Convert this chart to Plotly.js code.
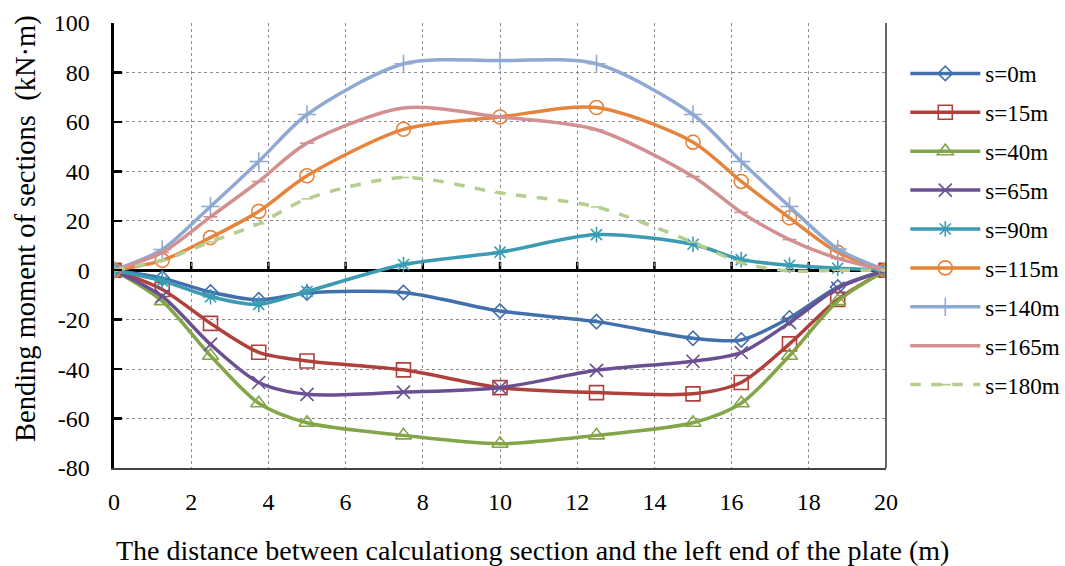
<!DOCTYPE html>
<html>
<head>
<meta charset="utf-8">
<script src="https://cdn.plot.ly/plotly-3.0.1.min.js"></script>
<style>html,body{margin:0;padding:0;background:#fff;}#chart{width:1065px;height:566px;}</style>
</head>
<body>
<div id="chart"></div>
<script>
const distance = [0, 1.25, 2.5, 3.75, 5, 7.5, 10, 12.5, 15, 16.25, 17.5, 18.75, 20];
const seriesNames = ["s=0m", "s=15m", "s=40m", "s=65m", "s=90m", "s=115m", "s=140m", "s=165m", "s=180m"];
const s0   = [0, -3.2, -8.8, -12, -9.2, -9, -16.5, -20.8, -27.5, -28.2, -19.3, -6.8, 0];
const s15  = [0, -7.8, -21.5, -33.2, -36.7, -40.3, -47.5, -49.5, -50, -45.4, -29.8, -11.8, 0];
const s40  = [0, -12.5, -34.6, -53.8, -61.7, -66.8, -70.2, -66.8, -61.7, -53.8, -34.6, -12.5, 0];
const s65  = [0, -10.6, -30, -45.4, -50.2, -49.3, -47.5, -40.5, -36.8, -33.3, -21.2, -7.3, 0];
const s90  = [0, -4.3, -10.7, -13.8, -8.6, 2.3, 7.3, 14.4, 10.5, 4.3, 2, 0.8, 0];
const s115 = [0, 4, 13.2, 23.8, 38.2, 57, 62, 65.8, 51.8, 35.9, 21.2, 7.2, 0];
const s140 = [0, 8.4, 25.8, 44, 63, 83.5, 84.8, 83.5, 63, 44, 25.8, 8.6, 0];
const s165 = [0, 7.2, 21.6, 35.9, 51.4, 65.6, 62, 56.8, 37.9, 23.4, 12.4, 4.8, 0];
const s180 = [0, 4, 11.5, 18.8, 28.9, 37.5, 31.3, 25.6, 11.3, 3, -0.3, 0, 0];
const xTicks = [0, 2, 4, 6, 8, 10, 12, 14, 16, 18, 20];
const yTicks = [-80, -60, -40, -20, 0, 20, 40, 60, 80, 100];
const xTitle = "The distance between calculationg section and the left end of the plate (m)";
const yTitle = "Bending moment of sections  (kN·m)";

const allValues = [s0, s15, s40, s65, s90, s115, s140, s165, s180];
const colors = ["#4170AD", "#B0403C", "#82A548", "#6A5092", "#3A9BB3", "#E5843A", "#8FA9D3", "#D39090", "#B5CD8E"];
const symbols = ["diamond-open", "square-open", "triangle-up-open", "x-thin-open", "asterisk-open", "circle-open", "cross-thin-open", "line-ew-open", "line-ew-open"];
const sizes = [11, 14, 14, 13, 13, 14, 13, 10, 8];
const dashes = ["solid","solid","solid","solid","solid","solid","solid","solid","dash"];

const serif = '"Liberation Serif", "Times New Roman", serif';

const traces = allValues.map((vals, i) => ({
  x: distance, y: vals, name: seriesNames[i], type: "scatter", mode: "lines+markers",
  legendgroup: "g" + i,
  line: {color: colors[i], width: 3.5, shape: "spline", smoothing: 0.8, dash: dashes[i]},
  marker: {symbol: symbols[i], size: sizes[i], color: colors[i], line: {color: colors[i], width: 1.6}}
}));

// decorative tick marks on the zero axis line, derived from the tick array
const zeroTickShapes = xTicks.slice(1, -1).map(t => ({
  type: "line", xref: "x", yref: "y", x0: t, x1: t, y0: 0, y1: 3.4,
  line: {color: "#000", width: 2.5}, layer: "below"
}));

const layout = {
  width: 1065, height: 566,
  paper_bgcolor: "#ffffff", plot_bgcolor: "#ffffff",
  margin: {l: 114, r: 179, t: 23, b: 98, autoexpand: false},
  font: {family: serif, size: 24, color: "#000"},
  showlegend: true,
  legend: {
    x: 1.025, xanchor: "left", y: 0.935, yanchor: "top",
    font: {family: serif, size: 23, color: "#000"},
    traceorder: "grouped", tracegroupgap: 6, itemwidth: 70, bgcolor: "rgba(0,0,0,0)"
  },
  xaxis: {
    range: [0, 20], tickvals: xTicks, ticktext: xTicks.map(String),
    showgrid: true, gridcolor: "#8c8c8c", griddash: "dot", gridwidth: 1,
    zeroline: false, showline: true, linecolor: "#444", linewidth: 1.5,
    ticks: "", ticklabelstandoff: 12,
    tickfont: {family: serif, size: 24, color: "#000"},
    automargin: false
  },
  yaxis: {
    range: [-80, 100], tickvals: yTicks, ticktext: yTicks.map(String),
    showgrid: true, gridcolor: "#8c8c8c", griddash: "dot", gridwidth: 1,
    zeroline: true, zerolinecolor: "#000", zerolinewidth: 3,
    showline: true, linecolor: "#000", linewidth: 3.5,
    ticks: "inside", ticklen: 8, tickwidth: 2.5, tickcolor: "#000",
    ticklabelstandoff: 16,
    tickfont: {family: serif, size: 24, color: "#000"},
    automargin: false
  },
  annotations: [
    {text: xTitle, xref: "paper", yref: "paper", x: 0.5421, y: -0.1858, xanchor: "center", yanchor: "middle",
     showarrow: false, font: {family: serif, size: 28, color: "#000"}},
    {text: yTitle, xref: "paper", yref: "paper", x: -0.1140, y: 0.5393, xanchor: "center", yanchor: "middle",
     textangle: -90, showarrow: false, font: {family: serif, size: 28.5, color: "#000"}}
  ],
  shapes: zeroTickShapes.concat([
    {type: "line", xref: "paper", yref: "paper", x0: 1, x1: 1, y0: 0, y1: 1, line: {color: "#333", width: 1.5}}
  ])
};

Plotly.newPlot("chart", traces, layout, {displayModeBar: false, staticPlot: true});
</script>
</body>
</html>
